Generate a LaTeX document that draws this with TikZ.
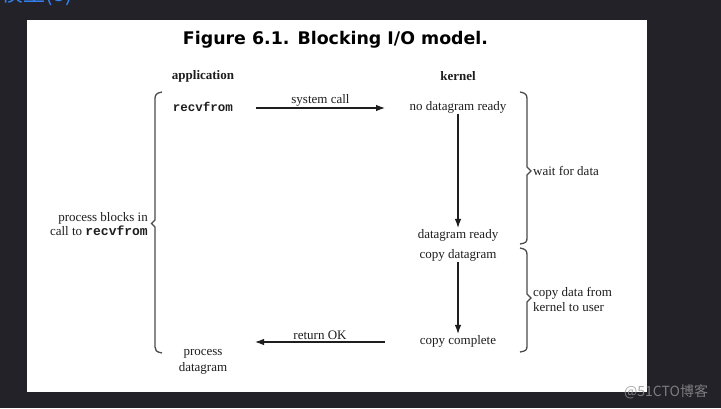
\documentclass[tikz,border=0pt]{standalone}
\usepackage{fontspec}
\setmainfont{Liberation Serif}
\newfontfamily\titlefont{DejaVu Sans}
\newfontfamily\monofont{Liberation Mono}
\newfontfamily\cjkfont{Noto Sans CJK SC}
\usetikzlibrary{arrows.meta}
\definecolor{darkbg}{RGB}{35,34,40}
\definecolor{linkblue}{RGB}{52,130,240}
\definecolor{ink}{RGB}{30,30,30}
\tikzset{
  lbl/.style={font=\fontsize{13}{14.5}\selectfont, text=ink, inner sep=1pt},
  hdr/.style={font=\fontsize{13}{14.5}\selectfont\bfseries, text=ink, inner sep=1pt},
  flow/.style={draw=ink, line width=1.1pt, -{Latex[length=9pt,width=6.5pt]}},
  brk/.style={draw=ink!80, line width=1.3pt},
}
\begin{document}
\begin{tikzpicture}[x=1pt,y=-1pt]
\useasboundingbox (0,0) rectangle (721,408);
\fill[darkbg] (0,0) rectangle (721,408);
\begin{scope}
\clip (0,0) rectangle (721,408);
\node[anchor=base east, text=linkblue, font=\cjkfont\fontsize{22}{24}\selectfont, inner sep=0pt] (head) at (73,1.5) {模型(5)};
\end{scope}
\fill[white] (27,20) rectangle (647,392);

% title
\node[anchor=base, inner sep=0pt] (title) at (335.5,44) {\resizebox{305pt}{!}{\titlefont\bfseries\fontsize{17}{19}\selectfont Figure 6.1. Blocking I/O model.}};

% headers
\node[hdr] (app) at (203,76) {application};
\node[hdr] (kern) at (458,76) {kernel};

% application side
\node[lbl, font=\monofont\bfseries\fontsize{12.5}{14}\selectfont] (recv) at (203,107) {recvfrom};
\node[lbl, align=center] (proc) at (203,362) {process\\[1.5pt]datagram};

% kernel side
\node[lbl] (nodr) at (458,107) {no datagram ready};
\node[lbl] (dgr) at (458,235) {datagram ready};
\node[lbl] (cpd) at (458,255) {copy datagram};
\node[lbl] (cpc) at (458,341) {copy complete};

% arrows
\coordinate (sc1) at (256,108);
\coordinate (sc2) at (385,108);
\draw[flow] (sc1) -- node[lbl, above=0pt] (sclab) {system call} (sc2);
\coordinate (ro1) at (385,342);
\coordinate (ro2) at (255,342);
\draw[flow] (ro1) -- node[lbl, above=1pt] (rolab) {return OK} (ro2);
\draw[flow] (nodr.south) -- (dgr.north);
\draw[flow] (cpd.south) -- (cpc.north);

% left bracket
\draw[brk] (162,92) .. controls (156,93) and (155,95) .. (155,99) -- (155,220) -- (151.5,223.5) -- (155,227) -- (155,347) .. controls (155,350) and (156,352) .. (162,353);
\node[lbl, anchor=east, align=right] (blk) at (149,224) {process blocks in\\call to {\monofont\bfseries recvfrom}};

% right braces
\draw[brk] (520,92) .. controls (526,93) and (527,95) .. (527,99) -- (527,167) -- (531,171) -- (527,175) -- (527,238) .. controls (527,242) and (526,243) .. (520,244);
\node[lbl, anchor=west] (wfd) at (532,171) {wait for data};
\draw[brk] (520,248) .. controls (526,249) and (527,251) .. (527,255) -- (527,294) -- (531,298) -- (527,302) -- (527,346) .. controls (527,350) and (526,351) .. (520,352);
\node[lbl, anchor=west, align=left] (cdk) at (532,299.5) {copy data from\\kernel to user};

% watermark
\node[anchor=base west, inner sep=0pt, text=gray!85, opacity=0.8, font=\cjkfont\fontsize{14}{16}\selectfont] (wm) at (624,396) {@51CTO博客};
\end{tikzpicture}
\end{document}
